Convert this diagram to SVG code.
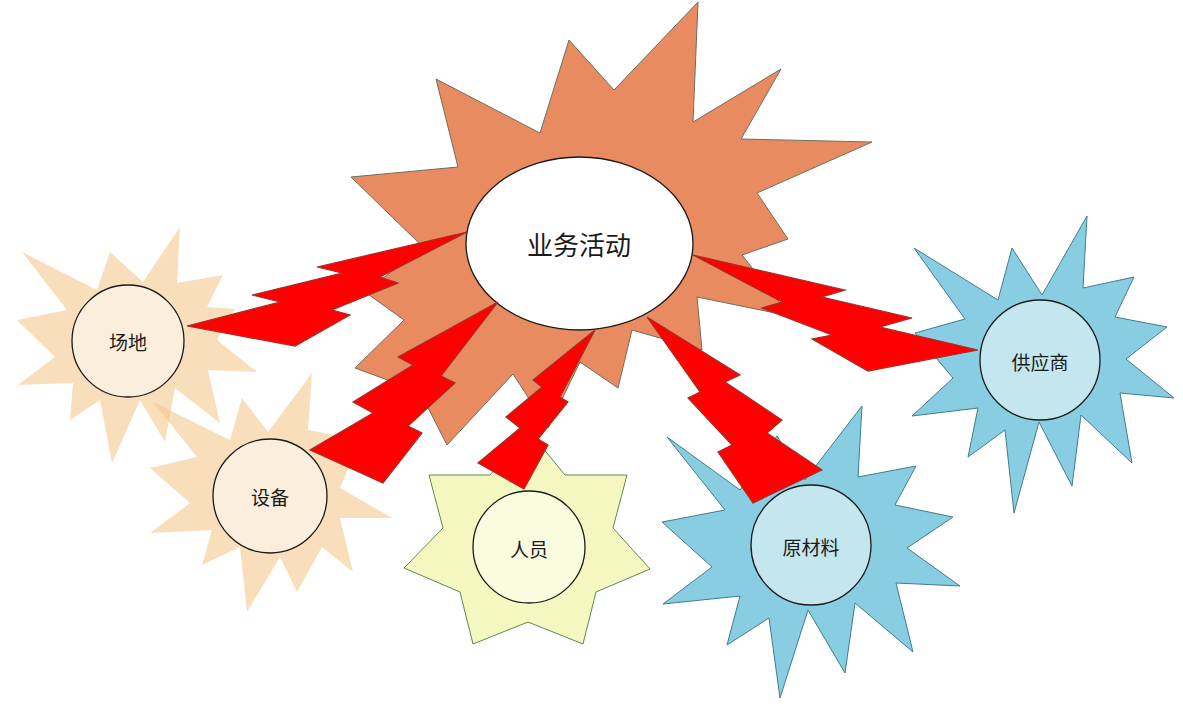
<svg xmlns="http://www.w3.org/2000/svg" width="1183" height="707" viewBox="0 0 1183 707">
<style>
.beige{fill:#F3C88E;fill-opacity:0.6;stroke:none}
.blue{fill:#88CDE2;stroke:#3F7E8C;stroke-width:1}
.yellow{fill:#F4F8C0;stroke:#5E8A4E;stroke-width:1}
.orange{fill:#E98B60;stroke:#6E6E5E;stroke-width:1}
.circ{stroke:#1a1a1a;stroke-width:1.3}
.bolt{fill:#FF0000;stroke:#A0302A;stroke-width:1.2;stroke-linejoin:miter}
.lbl{font-family:"Noto Sans CJK SC","Noto Sans",sans-serif;font-size:19px;fill:#1a1a1a;text-anchor:middle;dominant-baseline:central}
.big{font-size:26px}
</style>
<rect width="1183" height="707" fill="#ffffff"/>
<g id="node-changdi">
<polygon class="beige" points="180,227 177,283 223,275 207,307 235,309 217,340 257,372 208,370 220,423 175,388 165,442 140,400 112,463 100,400 70,420 73,383 18,385 55,357 17,320 67,310 22,252 97,290 110,252 143,282"/>
<circle class="circ" cx="128" cy="341" r="56" fill="#FBEEDC"/>
<text class="lbl" x="128" y="341">场地</text>
</g>
<g id="node-shebei">
<polygon class="beige" points="312,373 308,430 360,440 340,488 392,518 340,518 353,572 322,547 297,592 280,557 247,612 240,547 202,565 212,530 150,533 190,503 150,468 197,457 153,402 230,440 242,398 268,432"/>
<circle class="circ" cx="270" cy="496" r="57" fill="#FBEEDC"/>
<text class="lbl" x="270" y="496">设备</text>
</g>
<g id="node-renyuan">
<polygon class="yellow" points="528,430 565,475 627,475 613,528 650,569 596,592 583,644 528,622 473,644 460,592 404,568 443,528 429,475 490,475"/>
<circle class="circ" cx="529" cy="547" r="56" fill="#FAFCDF"/>
<text class="lbl" x="529" y="548">人员</text>
</g>
<g id="node-yuancailiao">
<polygon class="blue" points="862,406 858,477 916,466 895,505 953,517 907,548 960,586 896,583 913,652 855,603 845,673 808,610 780,698 769,618 727,645 740,596 663,604 712,567 662,522 725,510 667,437 740,490 777,436 805,480"/>
<circle class="circ" cx="811" cy="545" r="60" fill="#C4E6EF"/>
<text class="lbl" x="811" y="546">原材料</text>
</g>
<g id="node-gongyingshang">
<polygon class="blue" points="1087,216 1083,288 1134,277 1115,317 1167,327 1126,359 1174,398 1120,393 1132,463 1081,415 1072,486 1039,422 1014,513 1005,430 968,457 978,408 912,416 953,378 915,333 965,319 914,248 998,300 1012,248 1042,295"/>
<circle class="circ" cx="1040" cy="360" r="60" fill="#C4E6EF"/>
<text class="lbl" x="1040" y="361">供应商</text>
</g>
<g id="node-yewuhuodong">
<polygon class="orange" points="698,2 693,122 781,69 741,139 872,142 757,193 788,239 742,255 790,316 697,297 702,350 632,330 618,388 580,362 548,428 513,374 447,445 420,392 355,368 404,320 365,292 423,247 351,177 458,167 436,79 540,133 569,40 614,90"/>
<ellipse class="circ" cx="579.5" cy="243.5" rx="113.5" ry="86.5" fill="#ffffff"/>
<text class="lbl big" x="579" y="243">业务活动</text>
</g>
<g id="connectors">
<polygon class="bolt" points="467,232 317,267 342,273 252,295 280,302 187,326 295,346 350,315 332,310 398,283 380,277"/>
<polygon class="bolt" points="498,302 398,357 413,365 353,402 373,413 310,450 383,483 422,433 408,426 455,383 441,376"/>
<polygon class="bolt" points="595,330 533,380 542,387 506,417 520,428 478,463 524,489 548,445 538,439 568,402 560,397"/>
<polygon class="bolt" points="647,317 740,375 725,382 782,420 767,433 822,470 753,503 718,452 732,445 688,398 700,392"/>
<polygon class="bolt" points="693,255 845,290 822,297 912,318 880,327 978,350 868,371 812,339 832,335 762,308 782,302"/>
</g>
</svg>
